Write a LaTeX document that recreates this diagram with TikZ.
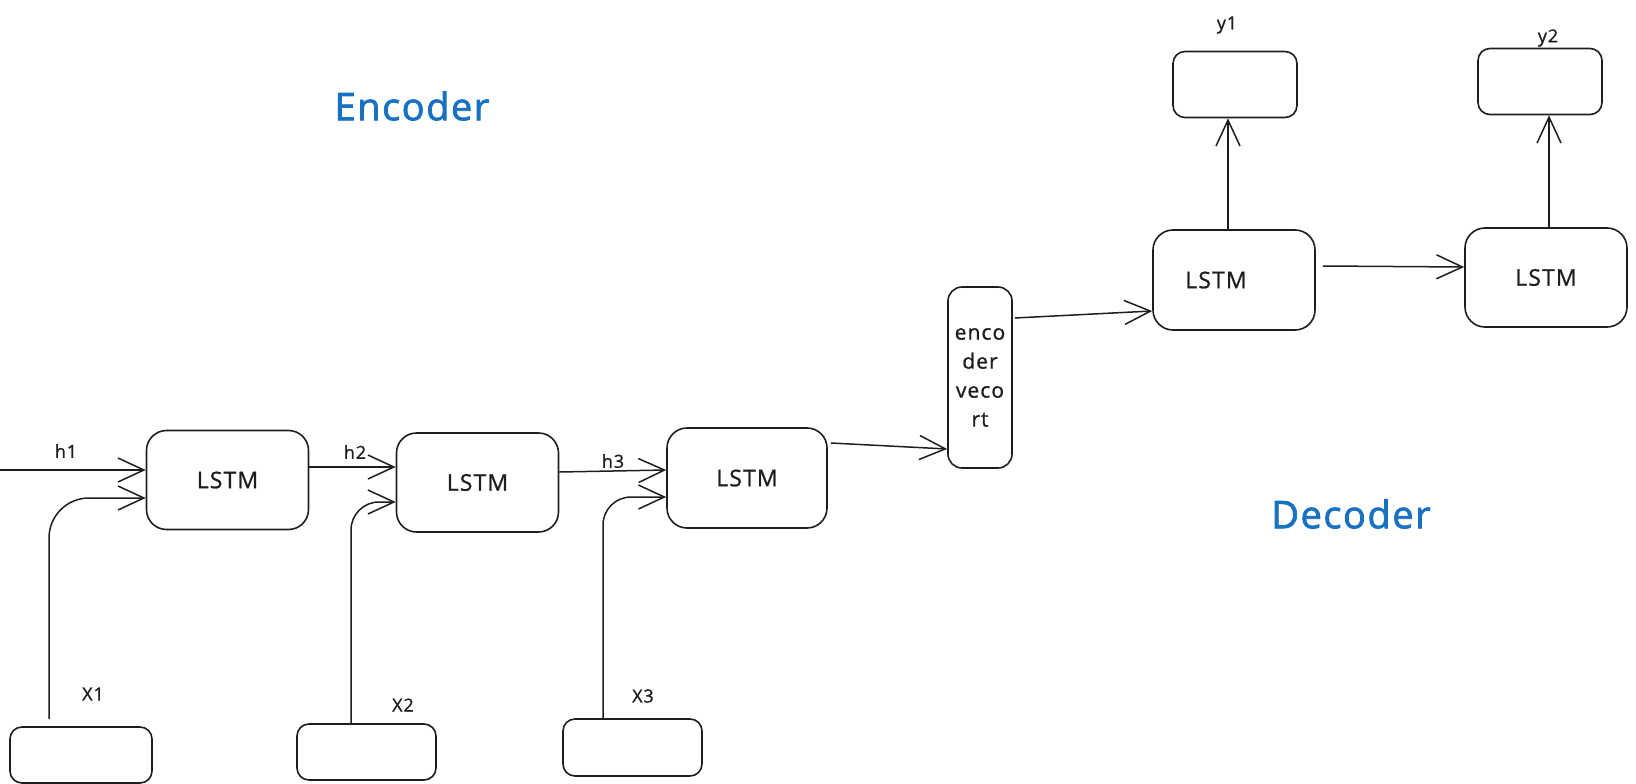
\documentclass[tikz,border=0pt]{standalone}
\usepackage{fontspec}
\setmainfont{Open Sans}
\newfontfamily\hand{Open Sans}[LetterSpace=5,FakeBold=1]
\newfontfamily\handtitle{Open Sans}[LetterSpace=4,FakeBold=2]
\usetikzlibrary{arrows.meta}
\definecolor{ink}{HTML}{1E1E1E}
\definecolor{exblue}{HTML}{1971C2}
\begin{document}
\begin{tikzpicture}[x=1pt,y=-1pt,
  lstm/.style={draw=ink, line width=1.6pt, rounded corners=20pt, minimum width=162pt, minimum height=99pt, inner sep=0pt, font=\hand\fontsize{23}{26}\selectfont, text=ink},
  iobox/.style={draw=ink, line width=1.6pt, rounded corners=12pt, minimum width=140pt, minimum height=56pt, inner sep=0pt},
  outbox/.style={iobox, minimum width=124pt, minimum height=66pt},
  encvec/.style={draw=ink, line width=1.6pt, rounded corners=14pt, minimum width=64pt, minimum height=181pt, inner sep=0pt, align=center, font=\hand\fontsize{21}{29}\selectfont, text=ink},
  lbl/.style={font=\hand\fontsize{18}{20}\selectfont, text=ink, inner sep=0pt},
  title/.style={font=\handtitle\fontsize{38}{42}\selectfont, text=exblue, inner sep=0pt},
  arr/.style={draw=ink, line width=1.5pt, -{Straight Barb[length=26pt,width=24pt]}}
]
\useasboundingbox (0,0) rectangle (1636,784);

% encoder LSTMs
\node[lstm] (l1) at (227.5,480) {LSTM};
\node[lstm] (l2) at (477.5,482.5) {LSTM};
\node[lstm, minimum width=160pt, minimum height=100pt] (l3) at (747,478) {LSTM};
% encoder vector
\node[encvec] (ev) at (980,377.5) {enco\\der\\veco\\rt};
% decoder LSTMs
\node[lstm, minimum height=100pt] (d1) at (1234,280) {LSTM\hspace*{36pt}};
\node[lstm] (d2) at (1546,277.5) {LSTM};
% outputs
\node[outbox] (y1) at (1235,84.5) {};
\node[outbox] (y2) at (1540,81.5) {};
% inputs
\node[iobox, minimum width=142pt] (x1) at (81,755) {};
\node[iobox, minimum width=139pt] (x2) at (366.5,752) {};
\node[iobox, minimum width=139pt, minimum height=57pt] (x3) at (632.5,747.5) {};

% labels
\node[lbl] (lh1) at (66,451) {h1};
\node[lbl] (lh2) at (355,452) {h2};
\node[lbl] (lh3) at (613,461) {h3};
\node[lbl] (lx1) at (93,694) {X1};
\node[lbl] (lx2) at (403,705) {X2};
\node[lbl] (lx3) at (643,696) {X3};
\node[lbl] (ly1) at (1227,25) {y1};
\node[lbl] (ly2) at (1548,38) {y2};
\node[title] (enc) at (412,106) {Encoder};
\node[title] (dec) at (1351,514) {Decoder};

% connectors
\coordinate (hin) at (0,470);
\draw[arr] (hin) -- ([yshift=10pt]l1.west);
\draw[arr] ([yshift=13pt]l1.east) -- ([yshift=15.5pt]l2.west);
\draw[arr] ([yshift=10.5pt]l2.east) -- ([yshift=8pt]l3.west);
\draw[arr] ([xshift=3pt,yshift=35pt]l3.east) -- ([yshift=-71.5pt]ev.west);
\draw[arr] ([xshift=2pt,yshift=59.5pt]ev.east) -- ([yshift=-31pt]d1.west);
\draw[arr] ([xshift=7pt,yshift=14pt]d1.east) -- ([yshift=10.5pt]d2.west);
\draw[arr] ([xshift=-6pt]d1.north) -- ([xshift=-7pt]y1.south);
\draw[arr] ([xshift=3pt]d2.north) -- ([xshift=9pt]y2.south);
\draw[arr, rounded corners=40pt] ([xshift=-32pt,yshift=7pt]x1.north) |- ([yshift=-18pt]l1.west);
\draw[arr, rounded corners=28pt] ([xshift=-15.5pt]x2.north) |- ([yshift=-19.5pt]l2.west);
\draw[arr, rounded corners=28pt] ([xshift=-29.5pt]x3.north) |- ([yshift=-19pt]l3.west);
\end{tikzpicture}
\end{document}
